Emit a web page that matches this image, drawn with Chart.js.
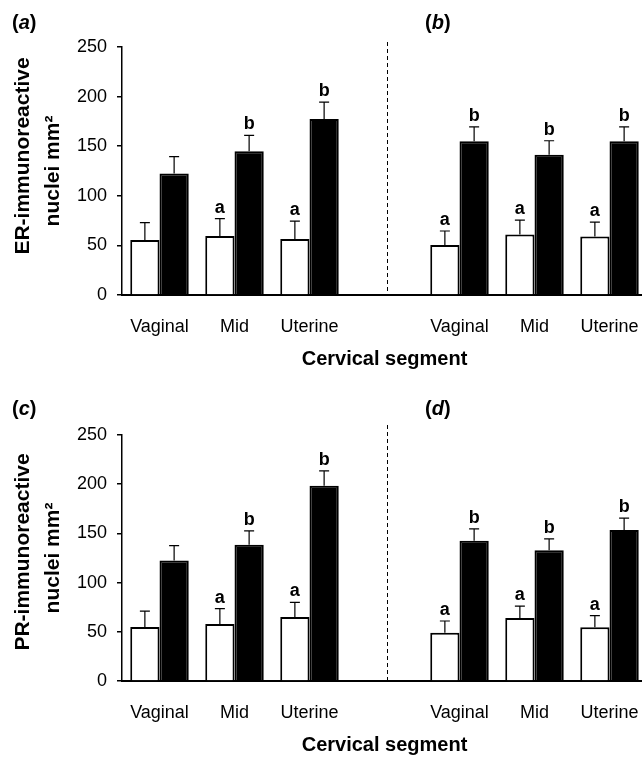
<!DOCTYPE html>
<html><head><meta charset="utf-8">
<script src="https://cdn.jsdelivr.net/npm/chart.js@4"></script>
<style>
html,body{margin:0;padding:0;background:#fff;width:642px;height:760px;overflow:hidden;}
.wrap{position:absolute;left:0;width:647px;}
</style></head><body>
<div class="wrap" style="top:0;height:372px"><canvas id="c1"></canvas></div>
<div class="wrap" style="top:380px;height:380px"><canvas id="c2"></canvas></div>
<script>
// ---- data ----
const segmentLabels = ['Vaginal', 'Mid', 'Uterine', '', 'Vaginal', 'Mid', 'Uterine'];
const yTickValues = [0, 50, 100, 150, 200, 250];

const erOpen     = [55.5, 59.5, 56.5, null, 50.5, 61, 59];
const erOpenSE   = [17.5, 17.5, 18, null, 14, 14.5, 14.5];
const erFilled   = [122.5, 145, 177.5, null, 155, 141.5, 155];
const erFilledSE = [17, 16, 17, null, 14.5, 14, 14.5];

const prOpen     = [55, 58, 65, null, 49, 64, 54.5];
const prOpenSE   = [16, 15.5, 15, null, 12, 12, 12];
const prFilled   = [122.5, 138.5, 198.5, null, 142.5, 133, 153.5];
const prFilledSE = [15, 14, 15, null, 12, 11.5, 12];

const openLetters   = ['', 'a', 'a', '', 'a', 'a', 'a'];
const filledLetters = ['', 'b', 'b', '', 'b', 'b', 'b'];

const FAM = '"Liberation Sans", Arial, Helvetica, sans-serif';

const decorPlugin = {
  id: 'decor',
  afterDatasetsDraw(chart) {
    const ctx = chart.ctx, y = chart.scales.y;
    ctx.save();
    chart.data.datasets.forEach((ds, di) => {
      const meta = chart.getDatasetMeta(di);
      meta.data.forEach((bar, i) => {
        const v = ds.data[i];
        if (v == null) return;
        const top = y.getPixelForValue(v + ds.se[i]);
        ctx.strokeStyle = '#000';
        ctx.lineWidth = 1.2;
        ctx.beginPath();
        ctx.moveTo(bar.x, bar.y);
        ctx.lineTo(bar.x, top);
        ctx.moveTo(bar.x - 5, top);
        ctx.lineTo(bar.x + 5, top);
        ctx.stroke();
        const L = ds.letters[i];
        if (L) {
          ctx.fillStyle = '#000';
          ctx.font = 'bold 18px ' + FAM;
          ctx.textAlign = 'center';
          ctx.textBaseline = 'alphabetic';
          ctx.fillText(L, bar.x, top - 6);
        }
      });
    });
    ctx.restore();
  },
  afterDraw(chart, args, opts) {
    const ctx = chart.ctx, x = chart.scales.x, y = chart.scales.y;
    ctx.save();
    // dashed separator
    const dx = Math.round(x.getPixelForValue(3) + opts.sepShift) + 0.5;
    ctx.strokeStyle = '#000';
    ctx.lineWidth = 1;
    ctx.setLineDash([4, 3]);
    ctx.beginPath();
    ctx.moveTo(dx, y.top - opts.sepAbove);
    ctx.lineTo(dx, y.bottom);
    ctx.stroke();
    ctx.setLineDash([]);
    // y title lines
    ctx.fillStyle = '#000';
    ctx.font = 'bold 21px ' + FAM;
    ctx.textAlign = 'center';
    ctx.textBaseline = 'middle';
    opts.yTitle.forEach(t => {
      ctx.save();
      ctx.translate(t.x, t.y);
      ctx.rotate(-Math.PI / 2);
      ctx.fillText(t.text, 0, 0);
      ctx.restore();
    });
    // panel labels
    ctx.textAlign = 'left';
    ctx.textBaseline = 'alphabetic';
    opts.panels.forEach(p => {
      let px = p.x;
      const parts = [['(', 'bold'], [p.letter, 'italic bold'], [')', 'bold']];
      parts.forEach(([s, st]) => {
        ctx.font = st + ' 20px ' + FAM;
        ctx.fillText(s, px, p.y);
        px += ctx.measureText(s).width;
      });
    });
    ctx.restore();
  }
};

function makeChart(id, c) {
  return new Chart(document.getElementById(id), {
    type: 'bar',
    data: {
      labels: segmentLabels,
      datasets: [
        { data: c.open, se: c.openSE, letters: openLetters,
          backgroundColor: '#fff', borderColor: '#000', borderWidth: 2 },
        { data: c.filled, se: c.filledSE, letters: filledLetters,
          backgroundColor: '#000', borderColor: '#000', borderWidth: 2 }
      ]
    },
    options: {
      responsive: true, maintainAspectRatio: false, animation: false,
      devicePixelRatio: 1,
      categoryPercentage: 0.78, barPercentage: 1,
      layout: { padding: { top: c.padTop, left: 0, right: 0, bottom: 0 } },
      plugins: {
        legend: { display: false }, tooltip: { enabled: false },
        decor: { yTitle: c.yTitle, panels: c.panels, sepShift: 2, sepAbove: c.sepAbove }
      },
      scales: {
        x: {
          grid: { display: false, drawTicks: false },
          border: { display: true, color: '#000', width: 2 },
          ticks: { color: '#000', font: { family: FAM, size: 18 }, padding: 21, autoSkip: false, maxRotation: 0 },
          title: { display: true, text: 'Cervical segment', color: '#000',
                   font: { family: FAM, size: 20, weight: 'bold' }, padding: { top: 0, bottom: c.titlePad } },
          afterFit: s => { s.height = c.xHeight; s.paddingLeft = 0; s.paddingRight = 0; }
        },
        y: {
          min: 0, max: 250,
          afterBuildTicks: s => { s.ticks = yTickValues.map(v => ({ value: v })); },
          ticks: { color: '#000', font: { family: FAM, size: 18 }, padding: 10 },
          grid: { display: true, drawOnChartArea: false, drawTicks: true, tickLength: 5, color: '#000', lineWidth: 1.5 },
          border: { display: true, color: '#000', width: 1.5 },
          afterFit: s => { s.width = 122; }
        }
      }
    },
    plugins: [decorPlugin]
  });
}

makeChart('c1', {
  open: erOpen, openSE: erOpenSE, filled: erFilled, filledSE: erFilledSE,
  padTop: 47, xHeight: 77, titlePad: 1, sepAbove: 5,
  yTitle: [{ text: 'ER-immunoreactive', x: 23, y: 156 }, { text: 'nuclei mm²', x: 53, y: 171 }],
  panels: [{ letter: 'a', x: 12, y: 29 }, { letter: 'b', x: 425, y: 29 }]
});
makeChart('c2', {
  open: prOpen, openSE: prOpenSE, filled: prFilled, filledSE: prFilledSE,
  padTop: 55, xHeight: 79, titlePad: 3, sepAbove: 10,
  yTitle: [{ text: 'PR-immunoreactive', x: 23, y: 172 }, { text: 'nuclei mm²', x: 53, y: 178 }],
  panels: [{ letter: 'c', x: 12, y: 35 }, { letter: 'd', x: 425, y: 35 }]
});
</script>
</body></html>
